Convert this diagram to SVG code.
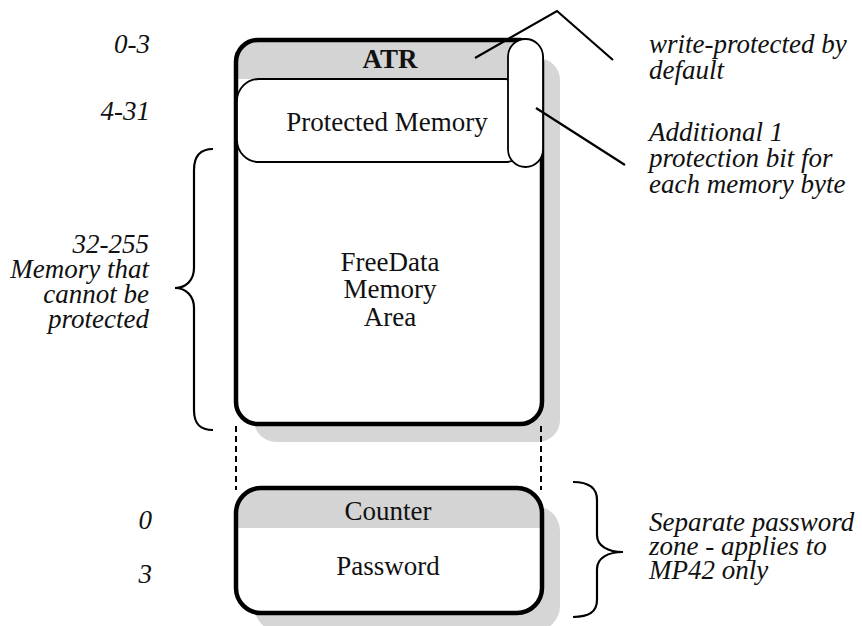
<svg xmlns="http://www.w3.org/2000/svg" width="862" height="626" viewBox="0 0 862 626">
  <style>
    .lbl { font-family: "Liberation Serif", "Times New Roman", serif; font-size: 27px; fill: #111; }
    .it { font-style: italic; }
    .mid { text-anchor: middle; }
    .end { text-anchor: end; }
    .shadow { fill: #d6d6d6; stroke: none; }
    .frame { fill: none; stroke: #000; stroke-width: 4.5; }
    .thin { fill: #fff; stroke: #000; stroke-width: 1.8; }
    .lead { fill: none; stroke: #000; stroke-width: 2.2; }
    .dash { fill: none; stroke: #000; stroke-width: 2; stroke-dasharray: 6 4; }
  </style>
  <defs>
    <clipPath id="mainClip"><rect x="236" y="40" width="306" height="384" rx="22"/></clipPath>
    <clipPath id="lowClip"><rect x="236" y="488" width="306" height="125" rx="25"/></clipPath>
  </defs>
  <rect width="862" height="626" fill="#fff"/>

  <!-- main memory block -->
  <g id="main-memory">
    <rect class="shadow" x="254" y="58" width="306" height="384" rx="22"/>
    <rect x="236" y="40" width="306" height="384" rx="22" fill="#fff"/>
    <g clip-path="url(#mainClip)">
      <rect x="230" y="36" width="320" height="43" fill="#d4d4d4"/>
    </g>
    <rect class="frame" x="236" y="40" width="306" height="384" rx="22"/>
  </g>

  <g id="atr">
    <text class="lbl mid" x="390" y="68" font-weight="bold">ATR</text>
  </g>

  <g id="protected-memory">
    <rect class="thin" x="237" y="79" width="290" height="83" rx="22"/>
    <text class="lbl mid" x="387" y="131">Protected Memory</text>
  </g>

  <g id="protection-bits">
    <rect class="thin" x="508" y="39" width="35" height="128" rx="17.5"/>
  </g>

  <g id="freedata">
    <text class="lbl mid" x="390" y="271">FreeData</text>
    <text class="lbl mid" x="390" y="298">Memory</text>
    <text class="lbl mid" x="390" y="326">Area</text>
  </g>

  <!-- password zone -->
  <g id="password-zone">
    <rect class="shadow" x="254" y="506" width="306" height="125" rx="25"/>
    <rect x="236" y="488" width="306" height="125" rx="25" fill="#fff"/>
    <g clip-path="url(#lowClip)">
      <rect x="226" y="470" width="326" height="58" rx="12" fill="#d4d4d4"/>
    </g>
    <rect class="frame" x="236" y="488" width="306" height="125" rx="25"/>
    <text class="lbl mid" x="388" y="520">Counter</text>
    <text class="lbl mid" x="388" y="575">Password</text>
  </g>

  <!-- connectors: leader lines, dashed guides, braces -->
  <g id="connectors">
    <polyline class="lead" points="475,58 557,11 613,60"/>
    <line class="lead" x1="536" y1="108" x2="625" y2="165"/>
    <line class="dash" x1="236" y1="426" x2="236" y2="490"/>
    <line class="dash" x1="541" y1="426" x2="541" y2="490"/>
    <path class="lead" d="M213,149 C200,149 194,156 194,170 L194,268 C194,280 186,288 175,288 C186,288 194,296 194,308 L194,410 C194,424 200,430 213,430"/>
    <path class="lead" d="M573,482 C589,482 597,488 597,500 L597,535 C597,546 608,552 623,552 C608,552 597,558 597,569 L597,600 C597,612 589,617 573,617"/>
  </g>

  <!-- address labels -->
  <g id="addresses">
    <text class="lbl it end" x="150" y="53">0-3</text>
    <text class="lbl it end" x="150" y="120">4-31</text>
    <text class="lbl it end" x="149" y="253">32-255</text>
    <text class="lbl it end" x="149" y="278">Memory that</text>
    <text class="lbl it end" x="149" y="303">cannot be</text>
    <text class="lbl it end" x="149" y="328">protected</text>
    <text class="lbl it end" x="152" y="529">0</text>
    <text class="lbl it end" x="152" y="583">3</text>
  </g>

  <!-- notes -->
  <g id="notes">
    <text class="lbl it" x="649" y="53">write-protected by</text>
    <text class="lbl it" x="649" y="79">default</text>
    <text class="lbl it" x="649" y="141">Additional 1</text>
    <text class="lbl it" x="649" y="167">protection bit for</text>
    <text class="lbl it" x="649" y="193">each memory byte</text>
    <text class="lbl it" x="649" y="531">Separate password</text>
    <text class="lbl it" x="649" y="555">zone - applies to</text>
    <text class="lbl it" x="649" y="579">MP42 only</text>
  </g>
</svg>
